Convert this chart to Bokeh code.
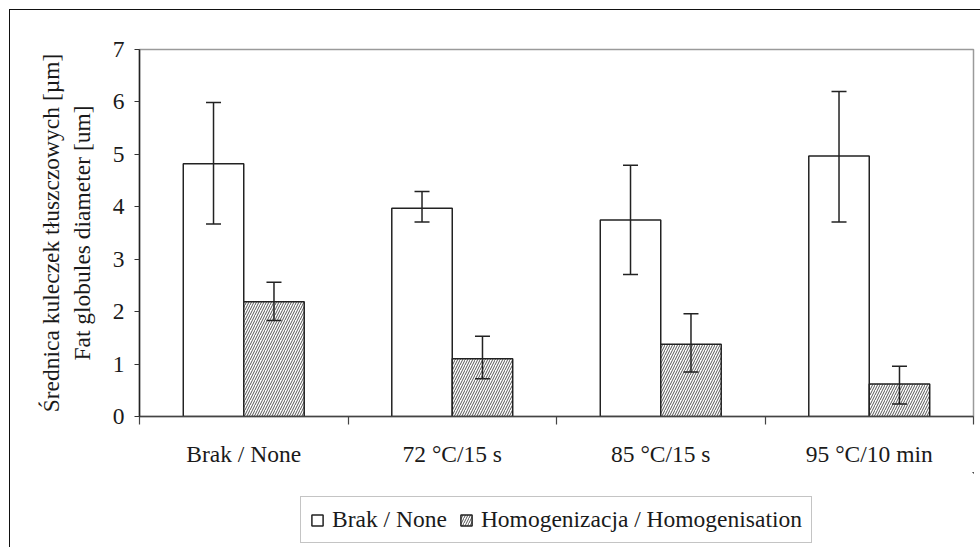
import numpy as np
from bokeh.plotting import figure
from bokeh.layouts import column
from bokeh.models import (ColumnDataSource, Range1d, FixedTicker, Whisker, TeeHead,
                          Legend, LegendItem)
from bokeh.transform import dodge
from bokeh.embed import file_html
from bokeh.resources import INLINE

categories = ["Brak / None", "72 \u00b0C/15 s", "85 \u00b0C/15 s", "95 \u00b0C/10 min"]
none_mean = [4.82, 3.97, 3.75, 4.97]
none_upper = [5.99, 4.29, 4.79, 6.20]
none_lower = [3.67, 3.71, 2.71, 3.71]
homo_mean = [2.19, 1.10, 1.38, 0.62]
homo_upper = [2.56, 1.53, 1.96, 0.96]
homo_lower = [1.83, 0.72, 0.85, 0.24]
series_names = ["Brak / None", "Homogenizacja / Homogenisation"]
y_ticks = [0, 1, 2, 3, 4, 5, 6, 7]

n = len(categories)
xc = [i + 0.5 for i in range(n)]
src = ColumnDataSource(dict(xc=xc, none_mean=none_mean, none_upper=none_upper,
                            none_lower=none_lower, homo_mean=homo_mean,
                            homo_upper=homo_upper, homo_lower=homo_lower))

FONT = "Liberation Serif"
FS = "23.5px"
TXT = "#1a1a1a"
BW = 0.29
NONE_STYLE = dict(fill_color="white", line_color="#222", line_width=1.5)
HOMO_STYLE = dict(fill_color="white", line_color="#222", line_width=1.5,
                  hatch_pattern="/", hatch_color="#555", hatch_scale=5, hatch_weight=1)

p = figure(width=970, height=462, x_range=Range1d(0, n), y_range=Range1d(0, 7),
           output_backend="svg", toolbar_location=None,
           min_border_left=129, min_border_right=7, min_border_top=39,
           min_border_bottom=56)

p.vbar(x=dodge("xc", -BW / 2), top="none_mean", width=BW, source=src, **NONE_STYLE)
p.vbar(x=dodge("xc", BW / 2), top="homo_mean", width=BW, source=src, **HOMO_STYLE)

for col, off in (("none", -BW / 2), ("homo", BW / 2)):
    w = Whisker(source=src, base=dodge("xc", off), upper=col + "_upper",
                lower=col + "_lower", line_color="#222", line_width=1.5,
                upper_head=TeeHead(size=15, line_color="#222", line_width=1.5),
                lower_head=TeeHead(size=15, line_color="#222", line_width=1.5),
                level="overlay")
    p.add_layout(w)

p.grid.visible = False
p.outline_line_color = "#9a9a9a"
p.outline_line_width = 1.5

# x axis
xa = p.xaxis[0]
xa.ticker = FixedTicker(ticks=xc, minor_ticks=list(range(n + 1)))
xa.major_label_overrides = {x: c for x, c in zip(xc, categories)}
xa.major_tick_line_color = None
xa.major_tick_out = 8
xa.major_tick_in = 0
xa.minor_tick_out = 8
xa.minor_tick_in = 0
xa.minor_tick_line_color = "#444"
xa.minor_tick_line_width = 1.2
xa.axis_line_color = "#444"
xa.axis_line_width = 1.5
xa.major_label_text_font = FONT
xa.major_label_text_font_size = FS
xa.major_label_text_color = TXT
xa.major_label_standoff = 16

# y axis
ya = p.yaxis[0]
ya.ticker = FixedTicker(ticks=y_ticks)
ya.major_tick_out = 5
ya.major_tick_in = 0
ya.major_tick_line_color = "#333"
ya.minor_tick_line_color = None
ya.axis_line_color = "#222"
ya.axis_line_width = 1.5
ya.major_label_text_font = FONT
ya.major_label_text_font_size = FS
ya.major_label_text_color = TXT
ya.major_label_standoff = 10
ya.axis_label = "\u015arednica kuleczek t\u0142uszczowych [\u00b5m]\nFat globules diameter [um]"
ya.axis_label_text_font = FONT
ya.axis_label_text_font_size = FS
ya.axis_label_text_font_style = "normal"
ya.axis_label_text_color = TXT
ya.axis_label_standoff = 15

# legend strip (its renderers use the same data but lie outside its visible range)
pl = figure(width=970, height=75, x_range=Range1d(-20, -19), y_range=Range1d(-20, -19),
            output_backend="svg", toolbar_location=None,
            x_axis_location=None, y_axis_location=None,
            min_border_left=0, min_border_right=0, min_border_top=0,
            min_border_bottom=0)
pl.grid.visible = False
pl.outline_line_color = None
l1 = pl.vbar(x=dodge("xc", -BW / 2), top="none_mean", width=BW, source=src, **NONE_STYLE)
l2 = pl.vbar(x=dodge("xc", BW / 2), top="homo_mean", width=BW, source=src, **HOMO_STYLE)
legend = Legend(items=[LegendItem(label=series_names[0], renderers=[l1], index=0),
                       LegendItem(label=series_names[1], renderers=[l2], index=0)],
                orientation="horizontal", location=(161, 4),
                label_text_font=FONT, label_text_font_size=FS,
                label_text_color=TXT, glyph_width=14, glyph_height=14,
                label_standoff=8, spacing=12, padding=9, margin=0,
                border_line_color="#8a8a8a", border_line_width=1.5,
                background_fill_alpha=0)
pl.add_layout(legend)

layout = column(p, pl, spacing=0)
layout.styles = {"margin-left": "9px", "margin-top": "9px",
                 "border-left": "1px solid #111", "border-top": "1px solid #111"}

open("out.html", "w").write(file_html(layout, INLINE))
